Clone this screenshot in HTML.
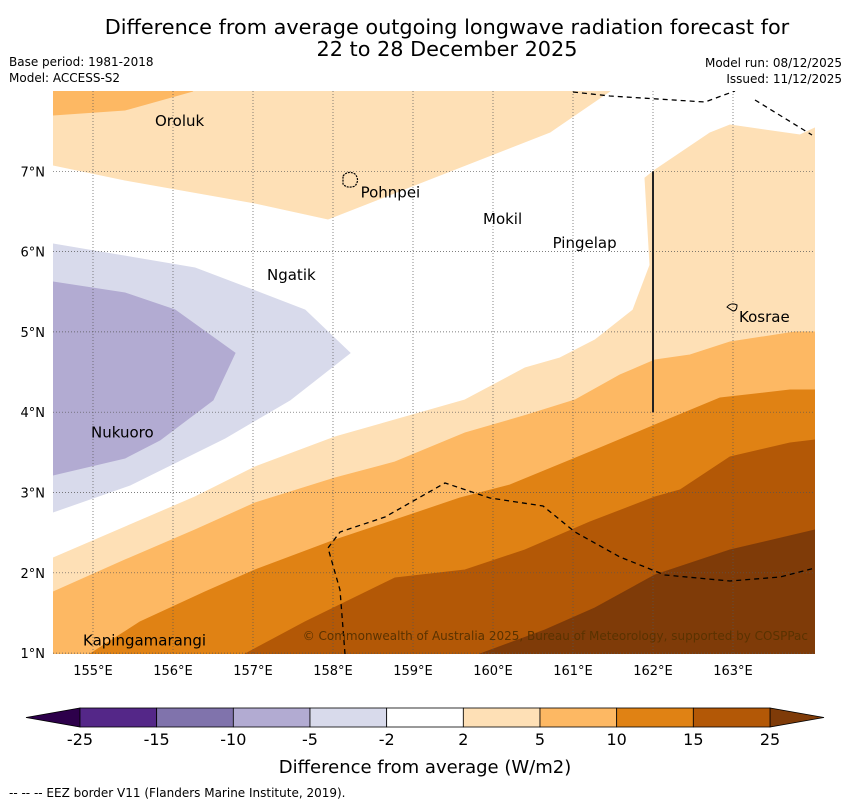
<!DOCTYPE html>
<html><head><meta charset="utf-8">
<style>
body{margin:0;background:#fff;width:850px;height:804px;overflow:hidden;font-family:"DejaVu Sans","Liberation Sans",sans-serif;}
svg text{font-family:"DejaVu Sans","Liberation Sans",sans-serif;}
</style></head>
<body>
<svg id="c" width="850" height="804">
<text x="447" y="34" font-size="20.8" text-anchor="middle">Difference from average outgoing longwave radiation forecast for</text>
<text x="447" y="56" font-size="20.8" text-anchor="middle">22 to 28 December 2025</text>
<text x="9" y="66" font-size="12">Base period: 1981-2018</text>
<text x="9" y="82" font-size="12">Model: ACCESS-S2</text>
<text x="842" y="67" font-size="12" text-anchor="end">Model run: 08/12/2025</text>
<text x="842" y="83" font-size="12" text-anchor="end">Issued: 11/12/2025</text>
<defs><clipPath id="mc"><rect x="53" y="91" width="762" height="563"/></clipPath></defs>
<g id="map" clip-path="url(#mc)"></g>
<g id="axes"></g>
<g id="cb"></g>
<text x="425" y="773" font-size="18" text-anchor="middle">Difference from average (W/m2)</text>
<text x="9" y="797" font-size="12">--  --  -- EEZ border V11 (Flanders Marine Institute, 2019).</text>
</svg>
<script>
const lonTicks=[155,156,157,158,159,160,161,162,163];
const latTicks=[1,2,3,4,5,6,7];
const cbLevels=["-25","-15","-10","-5","-2","2","5","10","15","25"];
const cbColors=["#542788","#8073ac","#b2abd2","#d8daeb","#ffffff","#fee0b6","#fdb863","#e08214","#b35806"];
// contour regions as pixel-estimated lon/lat vertex lists
function P(a){const o=[];for(let i=0;i<a.length;i+=2)o.push([154.5+(a[i]-53)/80,8-(a[i+1]-91)/80.3]);return o;}
const regions=[
 {name:"region-2-to-5-north",c:"#fee0b6",p:P([53,91,610,91,550,132,435,177,328,219,255,203,125,180,53,165])},
 {name:"region-5-to-10-northwest",c:"#fdb863",p:P([53,91,193,91,125,110,53,115])},
 {name:"region-2-to-5-southeast",c:"#fee0b6",p:P([815,128,800,135,730,125,710,133,655,170,645,178,650,265,633,310,595,340,560,358,525,368,465,400,335,437,255,467,195,497,53,558,53,660,815,660])},
 {name:"region-5-to-10",c:"#fdb863",p:P([815,332,795,332,730,342,690,355,655,360,620,375,575,400,527,415,465,433,395,462,335,478,255,503,195,530,125,560,53,592,53,660,815,660])},
 {name:"region-10-to-15",c:"#e08214",p:P([815,390,790,390,720,398,655,425,600,448,510,485,460,498,395,520,335,540,255,570,205,592,140,622,90,654,90,660,815,660])},
 {name:"region-15-to-25",c:"#b35806",p:P([815,440,790,443,730,457,680,490,655,497,590,522,525,550,465,570,395,578,305,622,245,654,245,660,815,660])},
 {name:"region-above-25",c:"#7f3b08",p:P([815,530,730,550,655,575,595,608,545,630,480,654,480,660,815,660])},
 {name:"region-minus-5-to-minus-2",c:"#d8daeb",p:P([53,244,130,257,195,268,245,287,305,310,350,353,290,400,225,438,130,485,53,512])},
 {name:"region-minus-10-to-minus-5",c:"#b2abd2",p:P([53,282,125,293,175,310,235,353,213,400,160,440,125,458,53,475])}
];
const eezLines=[P([573,92,610,96,705,102,735,91]),P([755,100,812,135]),
 P([345,654,340,590,328,548,340,532,385,517,445,483,490,498,543,506,575,532,620,557,665,575,730,581,780,577,815,568])];
const places=[["Oroluk",155.75,7.64],["Pohnpei",158.32,6.75],["Mokil",159.85,6.42],["Pingelap",160.72,6.12],["Ngatik",157.15,5.72],["Kosrae",163.05,5.2],["Nukuoro",154.95,3.76],["Kapingamarangi",154.85,1.17]];
const X=l=>53+(l-154.5)*80, Y=t=>91+(8-t)*80.3;
const NS="http://www.w3.org/2000/svg";
function mk(t,a,p){const e=document.createElementNS(NS,t);for(const k in a)e.setAttribute(k,a[k]);p.appendChild(e);return e;}
const map=document.getElementById('map');
mk('rect',{x:53,y:91,width:762,height:563,fill:'#fff'},map);
regions.forEach(r=>{const e=mk('polygon',{points:r.p.map(q=>X(q[0])+','+Y(q[1])).join(' '),fill:r.c,stroke:r.c,'stroke-width':1},map);

});
lonTicks.forEach(l=>{const e=mk('line',{x1:X(l),x2:X(l),y1:91,y2:654,stroke:'#555','stroke-width':0.7,'stroke-dasharray':'1,2'},map);

});
latTicks.forEach(t=>{const e=mk('line',{x1:53,x2:815,y1:Y(t),y2:Y(t),stroke:'#555','stroke-width':0.7,'stroke-dasharray':'1,2'},map);

});
eezLines.forEach(L=>{const e=mk('polyline',{points:L.map(q=>X(q[0])+','+Y(q[1])).join(' '),fill:'none',stroke:'#000','stroke-width':1.3,'stroke-dasharray':'5,4'},map);

});
let v=mk('line',{x1:X(162),x2:X(162),y1:Y(7),y2:Y(4),stroke:'#222','stroke-width':2},map);


let ip=mk('path',{d:'M343,176 q5,-6 12,-2 q5,6 0,12 q-8,3 -12,-2 z',fill:'none',stroke:'#000','stroke-width':1.2,'stroke-dasharray':'2,1'},map);


let ik=mk('path',{d:'M727,307 q4,-5 10,-2 q0,6 -4,6 z',fill:'none',stroke:'#000','stroke-width':1},map);


places.forEach(p=>{const e=mk('text',{x:X(p[1])+2,y:Y(p[2])+6,'font-size':15},map);e.textContent=p[0];

});
let cp=mk('text',{x:808,y:640,'font-size':12,fill:'#5a3200','text-anchor':'end'},map);cp.textContent='© Commonwealth of Australia 2025, Bureau of Meteorology, supported by COSPPac';


const ax=document.getElementById('axes');
lonTicks.forEach(l=>{const e=mk('text',{x:X(l),y:675,'font-size':13,'text-anchor':'middle'},ax);e.textContent=l+'°E';

});
latTicks.forEach(t=>{const e=mk('text',{x:45,y:Y(t)+5,'font-size':13,'text-anchor':'end'},ax);e.textContent=t+'°N';

});
const cb=document.getElementById('cb');
const x0=80,x1=770,w=(x1-x0)/cbColors.length,yt=708,h=19;
let la=mk('polygon',{points:`26,${yt+h/2} ${x0},${yt} ${x0},${yt+h}`,fill:'#2d004b',stroke:'#000','stroke-width':0.8},cb);


let ra=mk('polygon',{points:`824,${yt+h/2} ${x1},${yt} ${x1},${yt+h}`,fill:'#7f3b08',stroke:'#000','stroke-width':0.8},cb);


cbColors.forEach((c,i)=>{const e=mk('rect',{x:x0+i*w,y:yt,width:w,height:h,fill:c,stroke:'#000','stroke-width':0.8},cb);

});
cbLevels.forEach((s,i)=>{const e=mk('text',{x:x0+i*w,y:745,'font-size':16,'text-anchor':'middle'},cb);e.textContent=s;

});
</script>
</body></html>
